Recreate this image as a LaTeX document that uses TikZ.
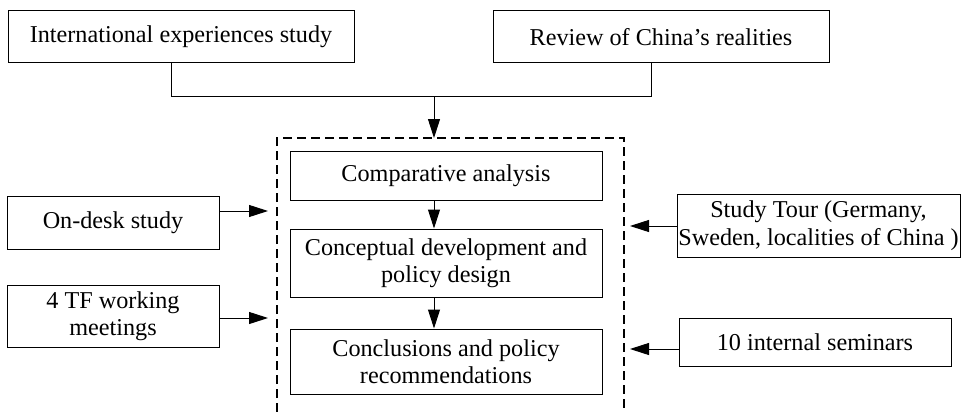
\documentclass[tikz,border=0pt]{standalone}
\usepackage{fontspec}
\setmainfont{Liberation Serif}
\usetikzlibrary{arrows.meta}
\begin{document}
\begin{tikzpicture}[x=1pt,y=-1pt,
  box/.style={draw,line width=1pt,inner sep=0pt,align=center,
    font=\fontsize{24.2}{27.5}\selectfont},
  conn/.style={line width=1pt},
  arr/.style={line width=1pt,-{Triangle[length=19pt,width=12pt]}},
  frame/.style={line width=1.4pt,dash pattern=on 9pt off 5pt}]
\useasboundingbox (0,0) rectangle (961,412);
\fill[white] (0,0) rectangle (961,412);
% top boxes
\node[box,minimum width=346pt,minimum height=52pt] (intl) at (181,37) {International experiences study};
\node[box,minimum width=336pt,minimum height=52pt] (china) at (661,37) {Review of China’s realities};
% inner boxes
\node[box,minimum width=312pt,minimum height=49pt] (compar) at (446,175.5) {Comparative analysis};
\node[box,minimum width=312pt,minimum height=68pt] (concept) at (446,263) {Conceptual development and\\policy design};
\node[box,minimum width=312pt,minimum height=65pt] (concl) at (446,361.5) {Conclusions and policy\\recommendations};
% side boxes
\node[box,minimum width=212pt,minimum height=53pt] (ondesk) at (113,222.5) {On-desk study};
\node[box,minimum width=212pt,minimum height=62pt] (tf) at (113,316) {4 TF working\\meetings};
\node[box,minimum width=283pt,minimum height=63pt] (tour) at (818.5,225.5) {Study Tour (Germany,\\Sweden, localities of China )};
\node[box,minimum width=272pt,minimum height=48pt] (sem) at (815,342) {10 internal seminars};
% dashed frame
\coordinate (fl) at (277,412);
\coordinate (ftl) at (277,138);
\coordinate (ftr) at (624,138);
\coordinate (fr) at (624,412);
\draw[frame] (fl) -- (ftl) -- (ftr) -- (fr);
% top merge
\coordinate (ca) at (171,96);
\coordinate (cb) at (651,96);
\coordinate (cm) at (434,96);
\coordinate (cx) at (434,0);
\draw[conn] (intl.south -| ca) -- (ca) -- (cb) -- (china.south -| cb);
\draw[arr] (cm) -- (ftl -| cm);
% inner arrows
\draw[arr] (compar.south -| cx) -- (concept.north -| cx);
\draw[arr] (concept.south -| cx) -- (concl.north -| cx);
% side arrows
\coordinate (lt) at (268,0);
\coordinate (rt) at (630,0);
\coordinate (y1) at (0,211);
\coordinate (y2) at (0,318);
\coordinate (y3) at (0,226);
\coordinate (y4) at (0,349);
\draw[arr] (ondesk.east |- y1) -- (lt |- y1);
\draw[arr] (tf.east |- y2) -- (lt |- y2);
\draw[arr] (tour.west |- y3) -- (rt |- y3);
\draw[arr] (sem.west |- y4) -- (rt |- y4);
\end{tikzpicture}
\end{document}
